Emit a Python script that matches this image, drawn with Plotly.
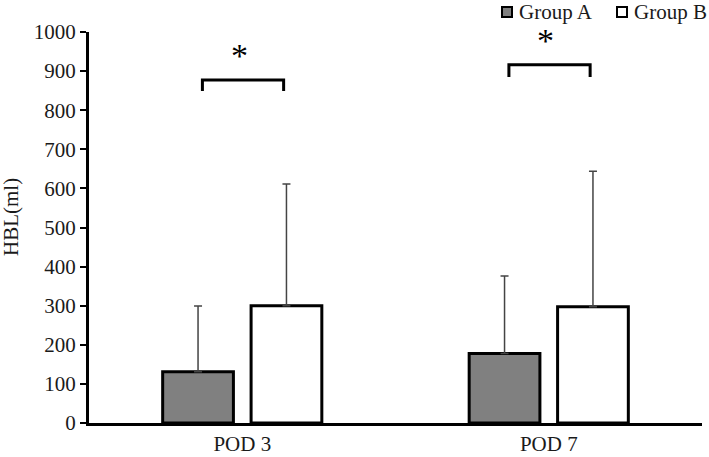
import plotly.graph_objects as go

categories = ["POD 3", "POD 7"]
group_a = [131, 178]
group_b = [300, 297]
err_a = [168, 198]
err_b = [311, 347]
bracket_y = [877, 916]
bracket_leg = [849, 885]
y_ticks = list(range(0, 1001, 100))
series_names = ["Group A", "Group B"]
series_colors = ["#808080", "white"]
y_title = "HBL(ml)"

FONT = "Liberation Serif"
TXT = "#1a1a1a"

fig = go.Figure()
for name, vals, errs, col in zip(series_names, [group_a, group_b], [err_a, err_b], series_colors):
    fig.add_trace(go.Bar(
        name=name, x=categories, y=vals,
        marker=dict(color=col, line=dict(color="black", width=3)),
        error_y=dict(type="data", array=errs, arrayminus=[0] * len(errs), symmetric=False,
                     color="#444444", thickness=1.5, width=4),
    ))

shapes = []
annotations = []
for i in range(len(categories)):
    x0, x1 = i - 0.13, i + 0.135
    shapes.append(dict(
        type="path", xref="x", yref="y",
        path=f"M {x0} {bracket_leg[i]} L {x0} {bracket_y[i]} L {x1} {bracket_y[i]} L {x1} {bracket_leg[i]}",
        line=dict(color="black", width=3),
    ))
    annotations.append(dict(
        x=i - 0.01, y=bracket_y[i] + 10, xref="x", yref="y", text="*", showarrow=False,
        yanchor="bottom", font=dict(family=FONT, size=34, color="black"),
    ))

# paper coords: plot spans x 89..702 px, y 32..423 px
PW, PH = 613.0, 391.0
def px_x(p):
    return (p - 89) / PW
def px_y(p):
    return (423 - p) / PH

legend_px = [(502, 517), (617, 632)]
for (mx, tx), name, col in zip(legend_px, series_names, series_colors):
    shapes.append(dict(type="rect", xref="paper", yref="paper",
                       x0=px_x(mx), x1=px_x(mx + 10), y0=px_y(17), y1=px_y(7),
                       fillcolor=col, line=dict(color="black", width=2)))
    annotations.append(dict(x=px_x(tx), y=px_y(12), xref="paper", yref="paper",
                            text=name, showarrow=False, xanchor="left", yanchor="middle",
                            font=dict(family=FONT, size=21, color=TXT)))

annotations.append(dict(x=px_x(11), y=px_y(217), xref="paper", yref="paper",
                        text=y_title, textangle=-90, showarrow=False,
                        xanchor="center", yanchor="middle",
                        font=dict(family=FONT, size=21, color=TXT)))

fig.update_layout(
    width=709, height=457,
    margin=dict(l=89, r=7, t=32, b=34, autoexpand=False),
    paper_bgcolor="white", plot_bgcolor="white",
    barmode="group", bargap=0.423, bargroupgap=0.2,
    font=dict(family=FONT, size=21, color=TXT),
    showlegend=False,
    shapes=shapes, annotations=annotations,
    xaxis=dict(showline=True, linecolor="black", linewidth=3, ticks="", automargin=False,
               showgrid=False, tickfont=dict(family=FONT, size=21, color=TXT)),
    yaxis=dict(range=[0, 1000], tickvals=y_ticks, showline=True, linecolor="black",
               linewidth=3, ticks="outside", ticklen=6, tickwidth=2, tickcolor="black",
               showgrid=False, zeroline=False, automargin=False,
               tickfont=dict(family=FONT, size=21, color=TXT)),
)

fig.write_html("out.html")
